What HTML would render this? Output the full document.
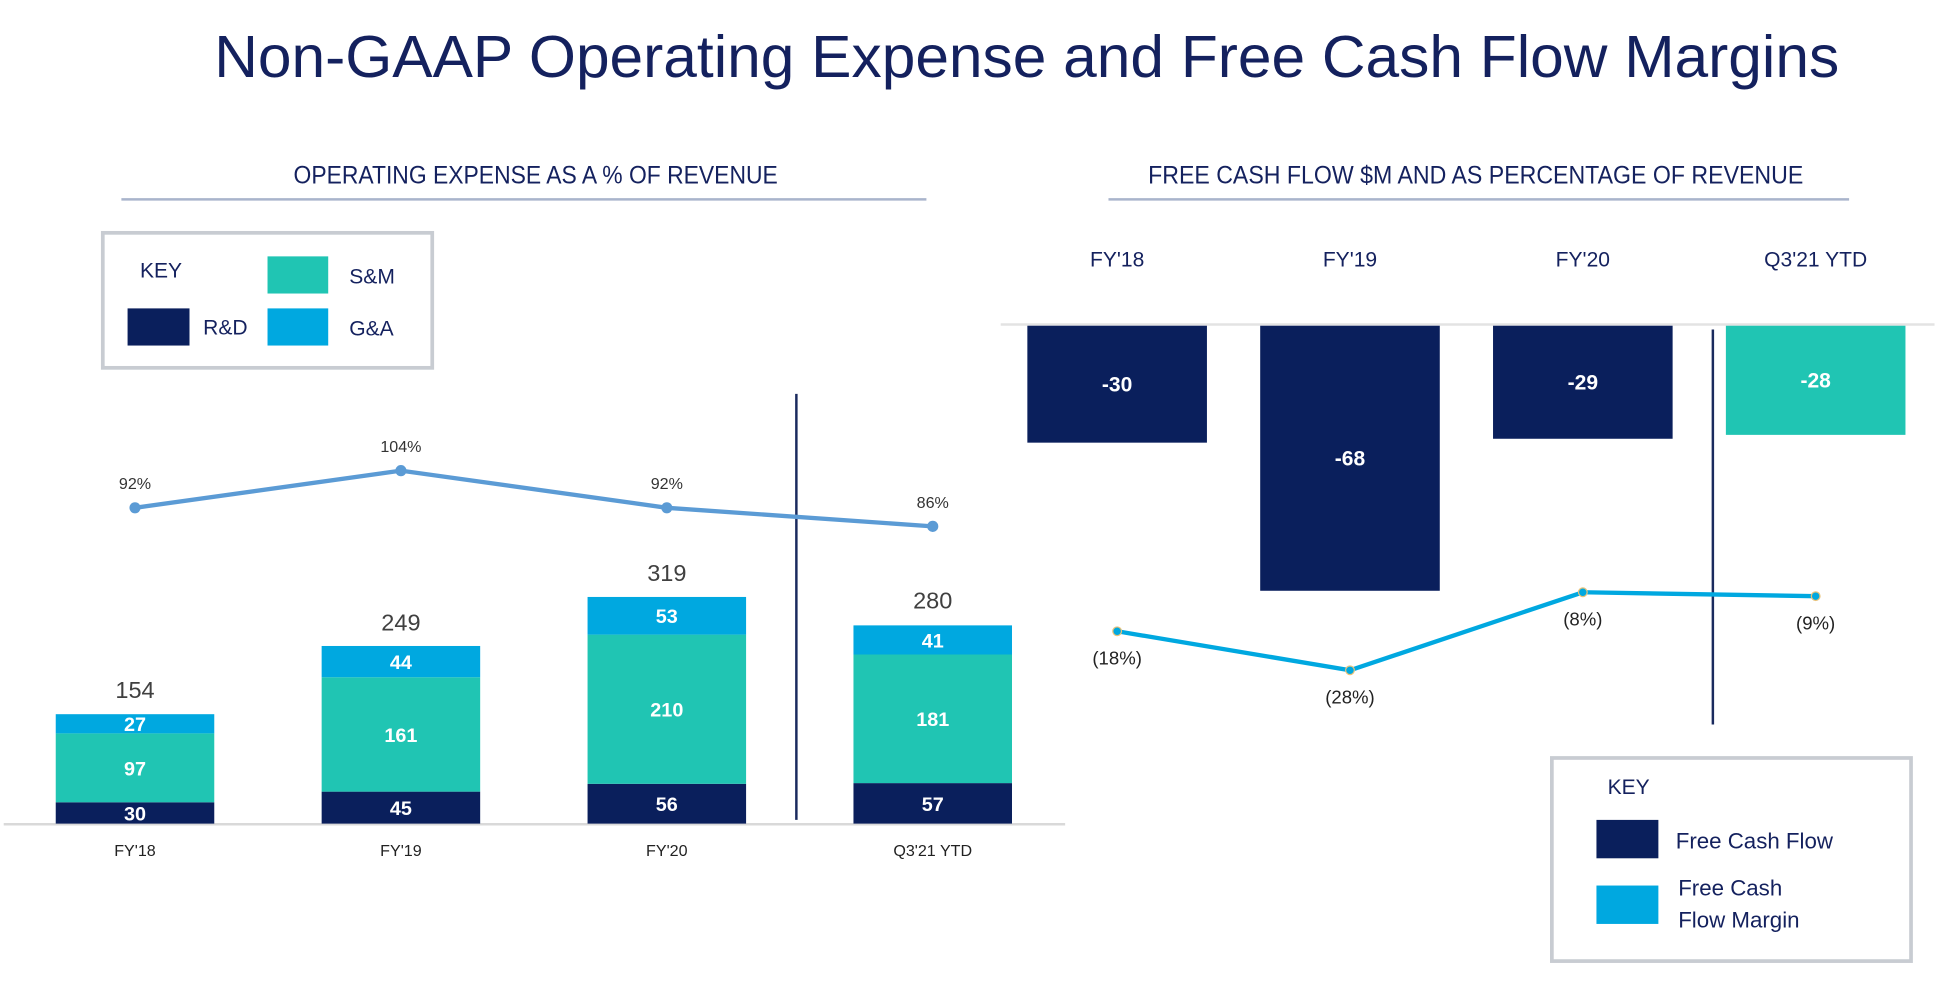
<!DOCTYPE html>
<html><head><meta charset="utf-8"><style>
html,body{margin:0;padding:0;background:#fff;width:1942px;height:984px;overflow:hidden}
svg{display:block;font-family:"Liberation Sans",sans-serif}
</style></head><body>
<svg id="chart" width="1942" height="984" viewBox="0 0 1568 794.5" xmlns="http://www.w3.org/2000/svg">
<text x="173" y="62" font-size="48" fill="#14215e" textLength="1312" lengthAdjust="spacingAndGlyphs">Non-GAAP Operating Expense and Free Cash Flow Margins</text>
<text x="237" y="148" font-size="20" fill="#14215e" textLength="391" lengthAdjust="spacingAndGlyphs">OPERATING EXPENSE AS A % OF REVENUE</text>
<line x1="98" y1="161" x2="748" y2="161" stroke="#a9b4cc" stroke-width="2"/>
<text x="927" y="148" font-size="20" fill="#14215e" textLength="529" lengthAdjust="spacingAndGlyphs">FREE CASH FLOW $M AND AS PERCENTAGE OF REVENUE</text>
<line x1="895" y1="161" x2="1493" y2="161" stroke="#a9b4cc" stroke-width="2"/>

<g>
<rect x="83" y="188" width="266" height="109" fill="#fff" stroke="#c8ccd2" stroke-width="3"/>
<text x="113" y="224" font-size="17" fill="#14215e">KEY</text>
<rect x="216" y="207" width="49" height="30" fill="#20c5b3"/>
<text x="282" y="229" font-size="17" fill="#14215e">S&amp;M</text>
<rect x="103" y="249" width="50" height="30" fill="#0a1f5c"/>
<text x="164" y="270" font-size="17" fill="#14215e">R&amp;D</text>
<rect x="216" y="249" width="49" height="30" fill="#00a8e0"/>
<text x="282" y="271" font-size="17" fill="#14215e">G&amp;A</text>
</g>

<g id="left"></g>
<g id="right"></g>

<g>
<rect x="1253" y="612" width="290" height="164" fill="#fff" stroke="#c8ccd2" stroke-width="3"/>
<text x="1298" y="641" font-size="17" fill="#14215e">KEY</text>
<rect x="1289" y="662" width="50" height="31" fill="#0a1f5c"/>
<text x="1353" y="685" font-size="18" fill="#14215e">Free Cash Flow</text>
<rect x="1289" y="715" width="50" height="31" fill="#00a8e0"/>
<text x="1355" y="723" font-size="18" fill="#14215e">Free Cash</text>
<text x="1355" y="749" font-size="18" fill="#14215e">Flow Margin</text>
</g>
</svg>
<script>
const categories = ["FY'18","FY'19","FY'20","Q3'21 YTD"];
const rdValues = [30,45,56,57];
const smValues = [97,161,210,181];
const gaValues = [27,44,53,41];
const totalValues = [154,249,319,280];
const opexPct = [92,104,92,86];
const fcfValues = [-30,-68,-29,-28];
const fcfMargin = [-18,-28,-8,-9];
const fcfMarginLabels = ["(18%)","(28%)","(8%)","(9%)"];

const NS="http://www.w3.org/2000/svg";
function mk(parent,tag,attrs,text){const e=document.createElementNS(NS,tag);for(const k in attrs)e.setAttribute(k,attrs[k]);if(text!==undefined)e.textContent=text;parent.appendChild(e);return e;}

// left chart axes
const L=document.getElementById('left');
const lBase=665, lScale=0.5737;
const lx=i=>109+i*214.7;
const ly=v=>lBase-v*lScale;
const py=v=>410-(v-92)*2.5;
const bw=128;
let ax=mk(L,'line',{x1:3,y1:lBase+0.5,x2:860,y2:lBase+0.5,stroke:'#d9d9d9','stroke-width':2});


let dv=mk(L,'line',{x1:643,y1:318,x2:643,y2:662,stroke:'#1a2a5e','stroke-width':2});


const segs=[[rdValues,'#0a1f5c','rd'],[smValues,'#20c5b3','sm'],[gaValues,'#00a8e0','ga']];
categories.forEach((c,i)=>{
  let cum=0;
  segs.forEach(([arr,col,nm])=>{
    const v=arr[i];
    const r=mk(L,'rect',{x:lx(i)-bw/2,y:ly(cum+v),width:bw,height:v*lScale,fill:col});
    
    
    const t=mk(L,'text',{x:lx(i),y:ly(cum+v/2)+6,'font-size':16,'font-weight':'bold',fill:'#fff','text-anchor':'middle'},String(v));
    
    
    cum+=v;
  });
  const tt=mk(L,'text',{x:lx(i),y:ly(totalValues[i])-13,'font-size':19,fill:'#404040','text-anchor':'middle'},String(totalValues[i]));
  
  
  const xl=mk(L,'text',{x:lx(i),y:691,'font-size':13,fill:'#222','text-anchor':'middle'},c);
  
  
});
const pl=mk(L,'polyline',{points:opexPct.map((v,i)=>lx(i)+','+py(v)).join(' '),fill:'none',stroke:'#5b9bd5','stroke-width':3.5});


opexPct.forEach((v,i)=>{
  const d=mk(L,'circle',{cx:lx(i),cy:py(v),r:4.5,fill:'#5b9bd5'});
  
  
  const t=mk(L,'text',{x:lx(i),y:py(v)-15,'font-size':13,fill:'#333','text-anchor':'middle'},v+'%');
  
  
});

// right chart
const R=document.getElementById('right');
const rBase=263, rScale=3.147;
const rx=i=>902+i*188;
const ry=v=>rBase-v*rScale;
const my=v=>453-v*3.15;
const rbw=145;
let rl=mk(R,'line',{x1:808,y1:rBase-1,x2:1562,y2:rBase-1,stroke:'#e3e3e3','stroke-width':2});


categories.forEach((c,i)=>{
  const h=mk(R,'text',{x:rx(i),y:215,'font-size':17,fill:'#14215e','text-anchor':'middle'},c);
  
  
  const v=fcfValues[i];
  const b=mk(R,'rect',{x:rx(i)-rbw/2,y:rBase,width:rbw,height:ry(v)-rBase,fill:i===3?'#20c5b3':'#0a1f5c'});
  
  
  const t=mk(R,'text',{x:rx(i),y:(rBase+ry(v))/2+6,'font-size':17,'font-weight':'bold',fill:'#fff','text-anchor':'middle'},String(v));
  
  
});
let rd=mk(R,'line',{x1:1383,y1:266,x2:1383,y2:585,stroke:'#1a2a5e','stroke-width':2});


const ml=mk(R,'polyline',{points:fcfMargin.map((v,i)=>rx(i)+','+my(v)).join(' '),fill:'none',stroke:'#00a8e0','stroke-width':3.5});


fcfMargin.forEach((v,i)=>{
  const d=mk(R,'circle',{cx:rx(i),cy:my(v),r:3.5,fill:'#00a8e0',stroke:'#e8c27a','stroke-width':1});
  
  
  const t=mk(R,'text',{x:rx(i),y:my(v)+27,'font-size':15,fill:'#222','text-anchor':'middle'},fcfMarginLabels[i]);
  
  
});
</script>
</body></html>
